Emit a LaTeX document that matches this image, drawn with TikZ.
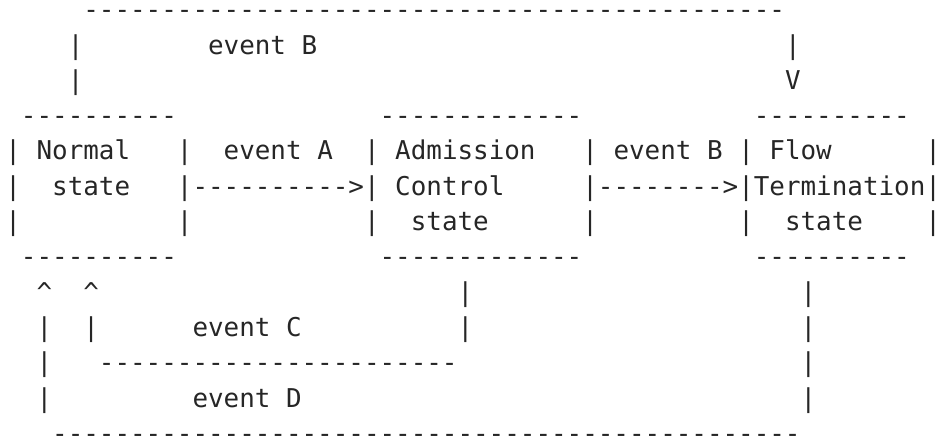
\documentclass[tikz,border=0pt]{standalone}
\usepackage{fontspec, xfp}
\newfontfamily\asciifont{DejaVu Sans Mono}[Ligatures=TeXOff]
\definecolor{ink}{HTML}{262626}
\newcommand*{\colW}{15.593}
\newcommand*{\rowH}{35.3}
\newcommand*{\cell}[3]{% column, row, text
    \node[ascii] (r#2c#1) at (\fpeval{5.2+#1*\colW}, \fpeval{54+(#2-2)*\rowH}) {#3};}
\newcommand*{\dashes}[3]{\cell{#1}{#2}{\foreach \x in {1,...,#3}{-}}} % column, row, count

\begin{document}
\begin{tikzpicture}[x=1pt, y=-1pt,
    ascii/.style={anchor=base west, inner sep=0pt, text=ink, font=\asciifont\fontsize{25.9}{30}\selectfont}] {
\useasboundingbox (0,0) rectangle (940,439);
\dashes{5}{1}{45}
\cell{4}{2}{|} \cell{13}{2}{event B} \cell{50}{2}{|}
\cell{4}{3}{|} \cell{50}{3}{V}
\dashes{1}{4}{10} \dashes{24}{4}{13} \dashes{48}{4}{10}
\cell{0}{5}{|} \cell{2}{5}{Normal} \cell{11}{5}{|} \cell{14}{5}{event A} \cell{23}{5}{|}
\cell{25}{5}{Admission} \cell{37}{5}{|} \cell{39}{5}{event B} \cell{47}{5}{|} \cell{49}{5}{Flow} \cell{59}{5}{|}
\cell{0}{6}{|} \cell{3}{6}{state} \cell{11}{6}{|} \dashes{12}{6}{10} \cell{22}{6}{>} \cell{23}{6}{|}
\cell{25}{6}{Control} \cell{37}{6}{|} \dashes{38}{6}{8} \cell{46}{6}{>} \cell{47}{6}{|} \cell{48}{6}{Termination} \cell{59}{6}{|}
\cell{0}{7}{|} \cell{11}{7}{|} \cell{23}{7}{|} \cell{26}{7}{state} \cell{37}{7}{|}
\cell{47}{7}{|} \cell{50}{7}{state} \cell{59}{7}{|}
\dashes{1}{8}{10} \dashes{24}{8}{13} \dashes{48}{8}{10}
\cell{2}{9}{\textasciicircum} \cell{5}{9}{\textasciicircum} \cell{29}{9}{|} \cell{51}{9}{|}
\cell{2}{10}{|} \cell{5}{10}{|} \cell{12}{10}{event C} \cell{29}{10}{|} \cell{51}{10}{|}
\cell{2}{11}{|} \dashes{6}{11}{23} \cell{51}{11}{|}
\cell{2}{12}{|} \cell{12}{12}{event D} \cell{51}{12}{|}
\dashes{3}{13}{48}
}\end{tikzpicture}
\end{document}
